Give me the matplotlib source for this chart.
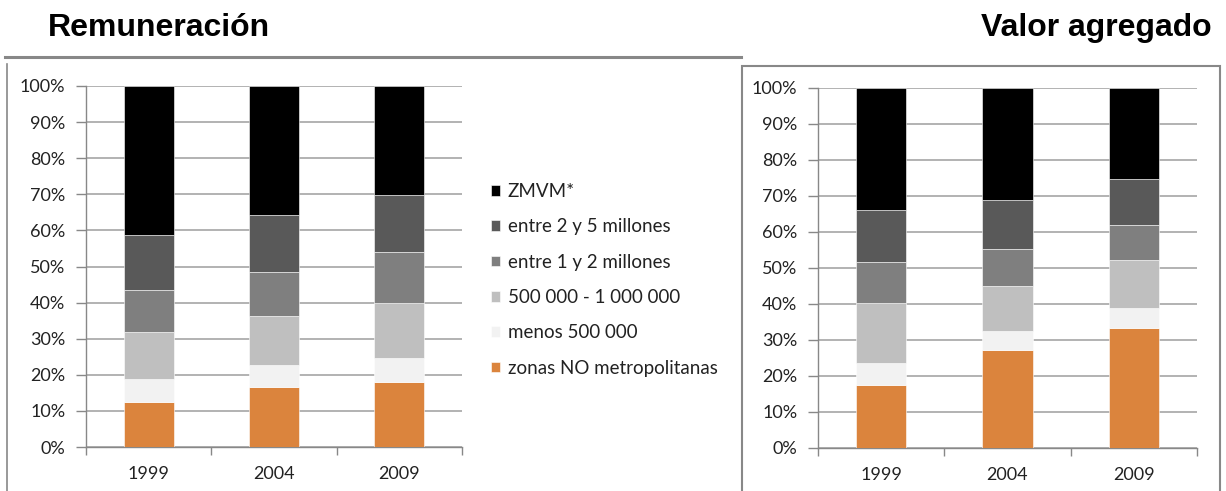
import matplotlib
matplotlib.use("Agg")
import matplotlib.pyplot as plt
from matplotlib.lines import Line2D
from matplotlib.patches import Rectangle
import numpy as np

YEARS = ["1999", "2004", "2009"]
SERIES = ["zonas NO metropolitanas", "menos 500 000", "500 000 - 1 000 000",
          "entre 1 y 2 millones", "entre 2 y 5 millones", "ZMVM*"]
COLORS = ["#DB843D", "#F2F2F2", "#BFBFBF", "#7F7F7F", "#595959", "#000000"]

# shares (%) per series, bottom to top, one value per year
REMUN = [
    [12.5, 16.5, 18.0],
    [6.2, 6.1, 6.6],
    [13.2, 13.6, 15.4],
    [11.7, 12.2, 14.1],
    [15.1, 15.8, 15.7],
    [41.3, 35.8, 30.2],
]
VALOR = [
    [17.6, 27.1, 33.3],
    [6.1, 5.5, 5.6],
    [16.6, 12.5, 13.4],
    [11.5, 10.1, 9.6],
    [14.3, 13.6, 12.9],
    [33.9, 31.2, 25.2],
]

W, H = 1226, 491
fig = plt.figure(figsize=(W / 100, H / 100), dpi=100)
TICKFONT = "Lato"
TICKSIZE = 13


def px(x0, y0, x1, y1):
    return [x0 / W, 1 - y1 / H, (x1 - x0) / W, (y1 - y0) / H]


def stacked(ax, data):
    x = np.arange(len(YEARS))
    bottom = np.zeros(len(YEARS))
    bars = []
    for vals, c, lab in zip(data, COLORS, SERIES):
        b = ax.bar(x, vals, 0.4, bottom=bottom, color=c, label=lab, zorder=3,
                   edgecolor="white", linewidth=0.4)
        bars.append(b)
        bottom += np.array(vals)
    ax.set_xlim(-0.5, 2.5)
    ax.set_ylim(0, 100)
    ax.set_yticks(np.arange(0, 101, 10))
    ax.set_yticklabels([f"{v}%" for v in range(0, 101, 10)], fontname=TICKFONT, fontsize=TICKSIZE)
    ax.set_xticks(x)
    ax.set_xticklabels(YEARS, fontname=TICKFONT, fontsize=TICKSIZE)
    ax.set_xticks([-0.5, 0.5, 1.5, 2.5], minor=True)
    ax.tick_params(axis="x", which="major", length=0, pad=14, colors="#222222")
    ax.tick_params(axis="x", which="minor", length=6, color="#888888", width=1)
    ax.tick_params(axis="y", length=7, width=1, pad=8, colors="#222222")
    ax.tick_params(axis="y", color="#888888")
    ax.grid(axis="y", color="#A6A6A6", linewidth=1.2, zorder=0)
    for s in ("top", "right"):
        ax.spines[s].set_visible(False)
    for s in ("left", "bottom"):
        ax.spines[s].set_color("#888888")
        ax.spines[s].set_linewidth(1)
    return bars


ax1 = fig.add_axes(px(86, 86, 462, 447))
bars = stacked(ax1, REMUN)
ax2 = fig.add_axes(px(818, 88, 1197, 448))
stacked(ax2, VALOR)

leg = fig.legend(bars[::-1], SERIES[::-1], loc="upper left",
                 bbox_to_anchor=(474 / W, 1 - 166 / H), frameon=False,
                 handlelength=0.5, handleheight=0.5, handletextpad=0.4,
                 labelspacing=0.98, prop={"family": TICKFONT, "size": 13.5})
for t in leg.get_texts():
    t.set_color("#222222")

# titles
fig.text(48 / W, 1 - 28 / H, "Remuneración", fontsize=23, fontweight="bold",
         family="Liberation Sans", va="center", ha="left")
fig.text(1212 / W, 1 - 28 / H, "Valor agregado", fontsize=23, fontweight="bold",
         family="Liberation Sans", va="center", ha="right")

# panel frames
fig.add_artist(Line2D([5 / W, 741 / W], [1 - 57 / H, 1 - 57 / H], color="#888888", lw=2.2))
fig.add_artist(Line2D([7 / W, 7 / W], [1 - 64 / H, 0], color="#888888", lw=1.2))
fig.add_artist(Rectangle((742 / W, -0.05), (1220 - 742) / W, 0.05 + (491 - 66) / H,
                         transform=fig.transFigure, fill=False, edgecolor="#888888", lw=1.5))

fig.savefig("out.png", dpi=100)
